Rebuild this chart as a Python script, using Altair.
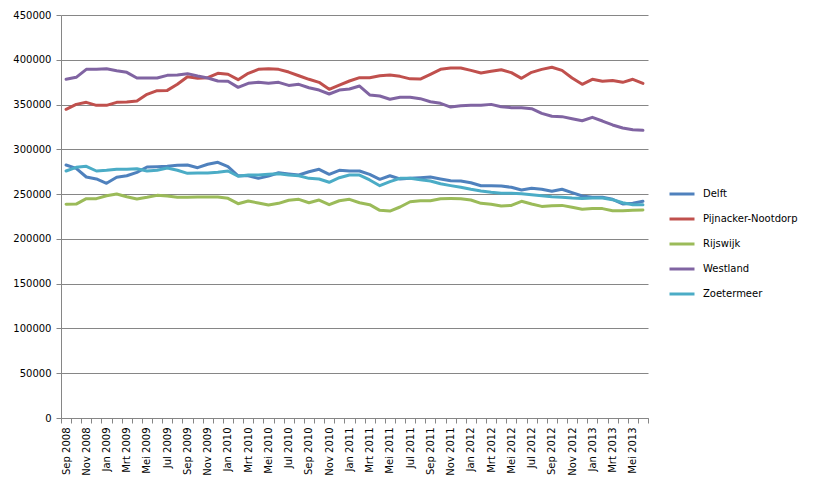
import json
import altair as alt
import pandas as pd

months = [
    "Sep 2008", "Okt 2008", "Nov 2008", "Dec 2008",
    "Jan 2009", "Feb 2009", "Mrt 2009", "Apr 2009", "Mei 2009", "Jun 2009",
    "Jul 2009", "Aug 2009", "Sep 2009", "Okt 2009", "Nov 2009", "Dec 2009",
    "Jan 2010", "Feb 2010", "Mrt 2010", "Apr 2010", "Mei 2010", "Jun 2010",
    "Jul 2010", "Aug 2010", "Sep 2010", "Okt 2010", "Nov 2010", "Dec 2010",
    "Jan 2011", "Feb 2011", "Mrt 2011", "Apr 2011", "Mei 2011", "Jun 2011",
    "Jul 2011", "Aug 2011", "Sep 2011", "Okt 2011", "Nov 2011", "Dec 2011",
    "Jan 2012", "Feb 2012", "Mrt 2012", "Apr 2012", "Mei 2012", "Jun 2012",
    "Jul 2012", "Aug 2012", "Sep 2012", "Okt 2012", "Nov 2012", "Dec 2012",
    "Jan 2013", "Feb 2013", "Mrt 2013", "Apr 2013", "Mei 2013", "Jun 2013",
]

delft = [
    282500, 278800, 269100, 266900, 262100, 268800, 270500, 274300, 280300, 280600,
    281000, 282200, 282500, 279500, 283300, 285500, 280600, 270500, 270500, 267600,
    270200, 273900, 272500, 271300, 275000, 277700, 272100, 276600, 275800, 275800,
    272100, 266500, 270500, 266900, 267600, 268300, 269000, 266900, 265000, 264600,
    262700, 259400, 259400, 259000, 257600, 254600, 256500, 255400, 253100, 255400,
    251600, 247900, 246400, 246400, 244200, 239000, 239700, 242000,
]
pijnacker = [
    344700, 350200, 352500, 349100, 349100, 352500, 352800, 354000, 361400, 365500,
    365800, 372600, 381100, 379300, 380000, 384900, 383800, 377800, 384900, 389300,
    390000, 389300, 386300, 382200, 378200, 374800, 367000, 371800, 376300, 380000,
    380000, 382200, 383000, 381500, 378700, 378500, 383800, 389300, 390800, 390800,
    388200, 385200, 387100, 388900, 385600, 379300, 386000, 389300, 391600, 388200,
    379700, 372600, 378200, 376000, 376800, 374800, 378200, 373700,
]
rijswijk = [
    238600, 238900, 244900, 244900, 248200, 250100, 247100, 244500, 246400, 248600,
    247900, 246400, 246400, 246700, 246700, 246700, 245300, 239300, 242300, 240000,
    237800, 239700, 243100, 244200, 240400, 243400, 238200, 242600, 244200, 240400,
    238200, 231900, 231100, 235600, 241500, 242600, 242600, 244900, 245000, 244900,
    243400, 239700, 238600, 236700, 237400, 242000, 239000, 236300, 237100, 237400,
    235300, 233000, 233800, 233800, 231500, 231500, 231900, 232200,
]
westland = [
    378200, 380400, 389300, 389300, 390000, 387800, 386000, 379700, 379700, 379700,
    382600, 383000, 384500, 381900, 379700, 376300, 376000, 369200, 373700, 374800,
    373700, 374800, 371400, 372600, 368800, 366200, 361800, 366200, 367400, 370700,
    360700, 359500, 355900, 358100, 358100, 356600, 353200, 351400, 347200, 348700,
    349100, 349100, 350200, 347600, 346500, 346500, 345400, 340200, 336900, 336500,
    334200, 331900, 335700, 331600, 327200, 323800, 321900, 321200,
]
zoetermeer = [
    275800, 279900, 281000, 275800, 276600, 277700, 277700, 278400, 275800, 276600,
    279100, 276600, 273200, 273600, 273600, 274300, 275800, 269900, 271300, 271300,
    272100, 272800, 271300, 270500, 267600, 266900, 263200, 268300, 271300, 271300,
    265800, 259400, 263900, 267600, 267600, 266100, 264600, 261600, 259500, 257600,
    255400, 253500, 252000, 250900, 250900, 250500, 249400, 248200, 247100, 246400,
    245600, 245200, 245600, 245600, 243800, 240400, 238200, 238200,
]

series_names = ["Delft", "Pijnacker-Nootdorp", "Rijswijk", "Westland", "Zoetermeer"]
series_values = [delft, pijnacker, rijswijk, westland, zoetermeer]
series_colors = ["#4F81BD", "#C0504D", "#9BBB59", "#8064A2", "#4BACC6"]
y_ticks = list(range(0, 450001, 50000))

rows = []
for name, vals in zip(series_names, series_values):
    for i, v in enumerate(vals):
        rows.append({"idx": i, "maand": months[i], "gemeente": name, "waarde": v})
df = pd.DataFrame(rows)

n = len(months)
boundaries = [i - 0.5 for i in range(n + 1)]
label_expr = (
    "(datum.value < " + str(n - 1) + " && (datum.value + 0.5) % 2 == 0) ? "
    + json.dumps(months) + "[datum.value + 0.5] : ''"
)

FONT = "DejaVu Sans"
GRAY = "#868686"

chart = (
    alt.Chart(df)
    .mark_line(strokeWidth=3, strokeCap="round", strokeJoin="round")
    .encode(
        x=alt.X(
            "idx:Q",
            scale=alt.Scale(domain=[-0.5, n - 0.5], nice=False, zero=False),
            axis=alt.Axis(
                values=boundaries,
                labelExpr=label_expr,
                labelAngle=270,
                labelOffset=5,
                labelOverlap=False,
                labelFlush=False,
                labelPadding=4,
                grid=False,
                title=None,
                tickSize=5,
                tickColor=GRAY,
                domainColor=GRAY,
            ),
        ),
        y=alt.Y(
            "waarde:Q",
            scale=alt.Scale(domain=[0, 450000], nice=False),
            axis=alt.Axis(
                values=y_ticks,
                format="d",
                title=None,
                tickSize=5,
                tickColor=GRAY,
                domainColor=GRAY,
                gridColor=GRAY,
                labelPadding=5,
            ),
        ),
        color=alt.Color(
            "gemeente:N",
            scale=alt.Scale(domain=series_names, range=series_colors),
            legend=alt.Legend(
                title=None,
                orient="none",
                legendX=607,
                legendY=165,
                symbolType="stroke",
                symbolSize=625,
                symbolStrokeWidth=3,
                labelOffset=7,
                rowPadding=5,
                padding=0,
            ),
        ),
        detail="gemeente:N",
    )
    .properties(
        width=587,
        height=403,
        padding={"left": 53, "top": 7, "right": 160, "bottom": 60},
        autosize=alt.AutoSizeParams(type="none"),
    )
    .configure_view(stroke=None)
    .configure_axis(
        labelFont=FONT,
        labelFontSize=10,
        labelColor="#000000",
        domainWidth=1,
        gridWidth=1,
    )
    .configure_legend(labelFont=FONT, labelFontSize=10, labelColor="#000000")
)

chart.save("out.html", embed_options={"renderer": "svg", "actions": False})
